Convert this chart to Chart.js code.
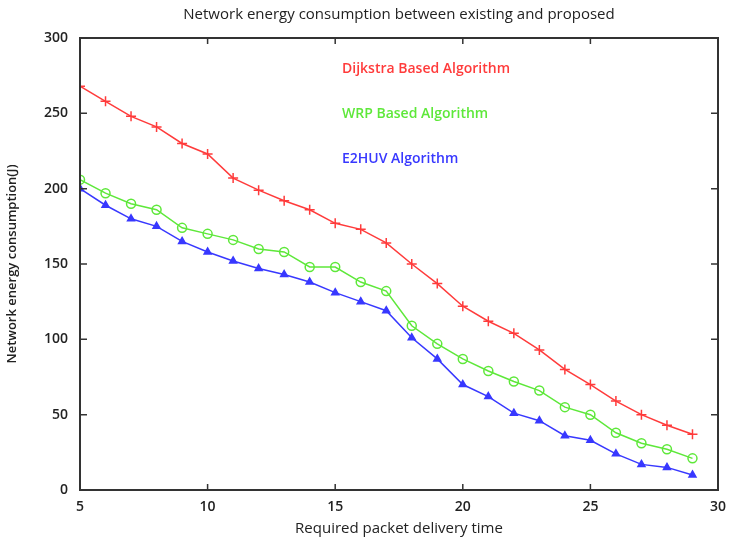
<!DOCTYPE html>
<html>
<head>
<meta charset="utf-8">
<script src="https://cdn.jsdelivr.net/npm/chart.js@4.4.1/dist/chart.umd.min.js"></script>
<style>
  html, body { margin: 0; padding: 0; background: #fff; }
  #wrap { width: 730px; height: 544px; }
</style>
</head>
<body>
<div id="wrap"><canvas id="chart" width="730" height="544"></canvas></div>
<script>
// packet delivery time
const times = [5,6,7,8,9,10,11,12,13,14,15,16,17,18,19,20,21,22,23,24,25,26,27,28,29];

const dijkstra = [268,258,248,241,230,223,207,199,192,186,177,173,164,150,137,122,112,104,93,80,70,59,50,43,37];
const wrp      = [206,197,190,186,174,170,166,160,158,148,148,138,132,109,97,87,79,72,66,55,50,38,31,27,21];
const e2huv    = [200,189,180,175,165,158,152,147,143,138,131,125,119,101,87,70,62,51,46,36,33,24,17,15,10];

const seriesNames = ['Dijkstra Based Algorithm', 'WRP Based Algorithm', 'E2HUV Algorithm'];
const seriesColors = ['#ff3b3b', '#5ee83a', '#3838ff'];
const chartTitle = 'Network energy consumption between existing and proposed';

const xTicks = [5,10,15,20,25,30];
const yTicks = [0,50,100,150,200,250,300];

function pts(vals) {
  return times.map((t, i) => ({ x: t, y: vals[i] }));
}

// box around the plot with inward ticks on all sides, title and text legend
const frame = {
  id: 'frame',
  afterDatasetsDraw(chart) {
    const { ctx, chartArea: a, scales } = chart;
    ctx.save();
    ctx.strokeStyle = '#333';
    ctx.lineWidth = 2;
    ctx.strokeRect(a.left, a.top, a.right - a.left, a.bottom - a.top);
    ctx.lineWidth = 1.5;
    ctx.beginPath();
    xTicks.forEach(v => {
      const px = scales.x.getPixelForValue(v);
      ctx.moveTo(px, a.bottom); ctx.lineTo(px, a.bottom - 6);
      ctx.moveTo(px, a.top); ctx.lineTo(px, a.top + 6);
    });
    yTicks.forEach(v => {
      const py = scales.y.getPixelForValue(v);
      ctx.moveTo(a.left, py); ctx.lineTo(a.left + 7, py);
      ctx.moveTo(a.right, py); ctx.lineTo(a.right - 7, py);
    });
    ctx.stroke();

    ctx.textBaseline = 'middle';
    ctx.textAlign = 'center';
    ctx.fillStyle = '#222';
    ctx.font = '500 15px "Open Sans"';
    ctx.fillText(chartTitle, (a.left + a.right) / 2, 15);

    ctx.font = '600 14px "Open Sans"';
    ctx.textAlign = 'left';
    seriesNames.forEach((name, i) => {
      ctx.fillStyle = seriesColors[i];
      ctx.fillText(name, a.left + 262, a.top + 31 + i * 45);
    });
    ctx.restore();
  }
};

new Chart(document.getElementById('chart'), {
  type: 'line',
  data: {
    datasets: [
      {
        label: seriesNames[0], data: pts(dijkstra),
        borderColor: seriesColors[0], backgroundColor: seriesColors[0],
        borderWidth: 1.5, pointStyle: 'cross', pointRadius: 5, tension: 0
      },
      {
        label: seriesNames[1], data: pts(wrp),
        borderColor: seriesColors[1], backgroundColor: 'rgba(255,255,255,0)',
        borderWidth: 1.5, pointStyle: 'circle', pointRadius: 4.5, pointBorderWidth: 1.5, tension: 0
      },
      {
        label: seriesNames[2], data: pts(e2huv),
        borderColor: seriesColors[2], backgroundColor: seriesColors[2],
        borderWidth: 1.5, pointStyle: 'triangle', pointRadius: 4, tension: 0
      }
    ]
  },
  options: {
    responsive: false,
    animation: false,
    layout: { padding: { left: 0, right: 12, top: 38, bottom: 0 } },
    plugins: {
      legend: { display: false },
      tooltip: { enabled: false },
      title: { display: false }
    },
    scales: {
      x: {
        type: 'linear', min: 5, max: 30,
        afterBuildTicks(s) { s.ticks = xTicks.map(v => ({ value: v })); },
        afterFit(s) { s.height = 54; s.paddingLeft = 0; s.paddingRight = 0; },
        grid: { display: false, drawTicks: false },
        border: { display: false },
        ticks: { color: '#222', padding: 9, font: { family: '"Open Sans"', size: 14, weight: '600' } },
        title: {
          display: true, text: 'Required packet delivery time', color: '#222',
          font: { family: '"Open Sans"', size: 15, weight: '500' }, padding: { top: 0, bottom: 6 }
        }
      },
      y: {
        min: 0, max: 300,
        afterBuildTicks(s) { s.ticks = yTicks.map(v => ({ value: v })); },
        afterFit(s) { s.width = 80; s.paddingTop = 0; s.paddingBottom = 0; },
        grid: { display: false, drawTicks: false },
        border: { display: false },
        ticks: { color: '#222', padding: 12, font: { family: '"Open Sans"', size: 14, weight: '600' } },
        title: {
          display: true, text: 'Network energy consumption(J)', color: '#222',
          font: { family: '"Open Sans"', size: 13, weight: '600' }, padding: { bottom: 0 }
        }
      }
    }
  },
  plugins: [frame]
});
</script>
</body>
</html>
